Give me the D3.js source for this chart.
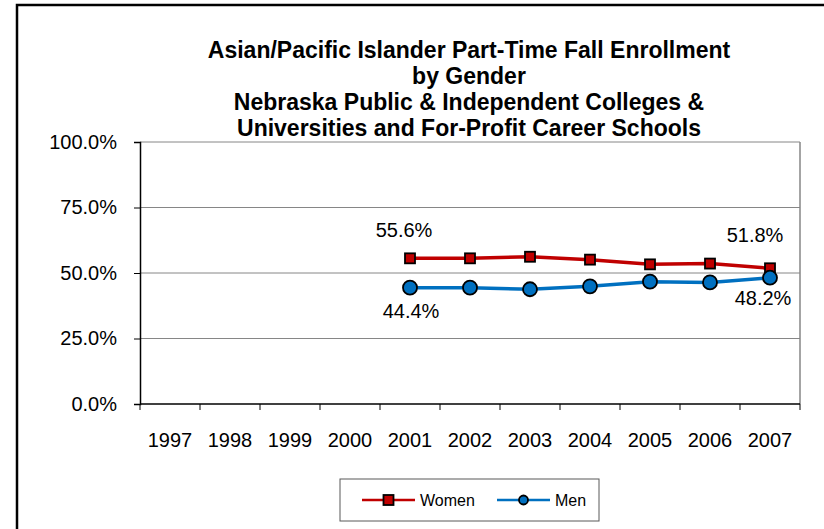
<!DOCTYPE html>
<html>
<head>
<meta charset="utf-8">
<script src="https://cdn.jsdelivr.net/npm/d3@7"></script>
<style>
  body { margin: 0; background: #fff; }
  text { font-family: "Liberation Sans", Arial, sans-serif; }
</style>
</head>
<body>
<svg width="824" height="529"></svg>
<script>
var years = ["1997", "1998", "1999", "2000", "2001", "2002", "2003", "2004", "2005", "2006", "2007"];
var women = [null, null, null, null, 55.6, 55.6, 56.2, 55.1, 53.3, 53.6, 51.8];
var men = [null, null, null, null, 44.4, 44.4, 43.8, 44.9, 46.7, 46.4, 48.2];
var yTicks = [0, 25, 50, 75, 100];
var titleLines = [
  "Asian/Pacific Islander Part-Time Fall Enrollment",
  "by Gender",
  "Nebraska Public & Independent Colleges &",
  "Universities and For-Profit Career Schools"
];

var svg = d3.select("svg");

// outer chart frame (runs off the right and bottom edges)
svg.append("rect")
  .attr("x", 17).attr("y", 5)
  .attr("width", 830).attr("height", 540)
  .attr("fill", "white").attr("stroke", "black").attr("stroke-width", 2.5);

var plot = { left: 140, top: 142, right: 800, bottom: 404 };

var x = d3.scaleBand().domain(years).range([plot.left, plot.right]);
var y = d3.scaleLinear().domain([0, 100]).range([plot.bottom, plot.top]);

// title
svg.append("text")
  .attr("x", 469).attr("y", 58)
  .attr("text-anchor", "middle")
  .attr("font-size", 23).attr("font-weight", "bold")
  .selectAll("tspan")
  .data(titleLines)
  .enter().append("tspan")
  .attr("x", 469)
  .attr("dy", function(d, i) { return i == 0 ? 0 : 26; })
  .text(function(d) { return d; });

// gridlines
svg.append("g")
  .selectAll("line")
  .data(yTicks.filter(function(d) { return d > 0; }))
  .enter().append("line")
  .attr("x1", plot.left).attr("x2", plot.right)
  .attr("y1", function(d) { return y(d); })
  .attr("y2", function(d) { return y(d); })
  .attr("stroke", "#868686").attr("stroke-width", 1);

svg.append("line")
  .attr("x1", plot.right).attr("x2", plot.right)
  .attr("y1", plot.top).attr("y2", plot.bottom)
  .attr("stroke", "#868686").attr("stroke-width", 1.5);

// y axis
var yAxis = d3.axisLeft(y)
  .tickValues(yTicks)
  .tickSize(6)
  .tickPadding(17)
  .tickFormat(function(d) { return d3.format(".1f")(d) + "%"; });

var gy = svg.append("g")
  .attr("transform", "translate(" + plot.left + ",0)")
  .call(yAxis);
gy.select(".domain").attr("stroke", "black").attr("stroke-width", 1.5);
gy.selectAll(".tick line").attr("stroke", "black");
gy.selectAll(".tick text")
  .attr("font-size", 20).attr("fill", "black")
  .attr("font-family", "Liberation Sans, Arial, sans-serif");

// x axis, ticks between categories
var gx = svg.append("g")
  .attr("transform", "translate(0," + plot.bottom + ")");
gx.append("line")
  .attr("x1", plot.left).attr("x2", plot.right)
  .attr("stroke", "black").attr("stroke-width", 1.5);
gx.selectAll(".tk")
  .data(years.concat(["end"]))
  .enter().append("line")
  .attr("x1", function(d, i) { return plot.left + i * x.bandwidth(); })
  .attr("x2", function(d, i) { return plot.left + i * x.bandwidth(); })
  .attr("y1", 0).attr("y2", 6)
  .attr("stroke", "black");
gx.selectAll("text")
  .data(years)
  .enter().append("text")
  .attr("x", function(d) { return x(d) + x.bandwidth() / 2; })
  .attr("y", 43)
  .attr("text-anchor", "middle")
  .attr("font-size", 20)
  .text(function(d) { return d; });

// series
var series = [
  { name: "Women", values: women, color: "#C00000", shape: "square" },
  { name: "Men", values: men, color: "#0070C0", shape: "circle" }
];

var line = d3.line()
  .defined(function(d) { return d.v != null; })
  .x(function(d) { return x(d.year) + x.bandwidth() / 2; })
  .y(function(d) { return y(d.v); });

series.forEach(function(s) {
  var pts = years.map(function(yr, i) { return { year: yr, v: s.values[i] }; });
  svg.append("path")
    .datum(pts)
    .attr("d", line)
    .attr("fill", "none")
    .attr("stroke", s.color)
    .attr("stroke-width", 3.5);

  var g = svg.append("g");
  var valid = pts.filter(function(d) { return d.v != null; });
  if (s.shape == "square") {
    g.selectAll("rect").data(valid).enter().append("rect")
      .attr("x", function(d) { return x(d.year) + x.bandwidth() / 2 - 5; })
      .attr("y", function(d) { return y(d.v) - 5; })
      .attr("width", 10).attr("height", 10)
      .attr("fill", s.color).attr("stroke", "black").attr("stroke-width", 1.8);
  } else {
    g.selectAll("circle").data(valid).enter().append("circle")
      .attr("cx", function(d) { return x(d.year) + x.bandwidth() / 2; })
      .attr("cy", function(d) { return y(d.v); })
      .attr("r", 7)
      .attr("fill", s.color).attr("stroke", "black").attr("stroke-width", 1.8);
  }
});

// data labels for first and last points
var labels = [
  { year: "2001", v: women[4], dx: -6, dy: -21 },
  { year: "2001", v: men[4], dx: 1, dy: 30 },
  { year: "2007", v: women[10], dx: -15, dy: -26 },
  { year: "2007", v: men[10], dx: -7, dy: 27 }
];
svg.append("g")
  .selectAll("text")
  .data(labels)
  .enter().append("text")
  .attr("x", function(d) { return x(d.year) + x.bandwidth() / 2 + d.dx; })
  .attr("y", function(d) { return y(d.v) + d.dy; })
  .attr("text-anchor", "middle")
  .attr("font-size", 20)
  .text(function(d) { return d3.format(".1f")(d.v) + "%"; });

// legend
var lg = svg.append("g").attr("transform", "translate(340,479)");
lg.append("rect")
  .attr("width", 259).attr("height", 42)
  .attr("fill", "white").attr("stroke", "#595959").attr("stroke-width", 1);

var items = lg.selectAll(".item")
  .data(series)
  .enter().append("g")
  .attr("transform", function(d, i) { return "translate(" + (22 + i * 135) + ",21)"; });
items.append("line")
  .attr("x1", 0).attr("x2", 53)
  .attr("stroke", function(d) { return d.color; })
  .attr("stroke-width", 2.5);
items.filter(function(d) { return d.shape == "square"; })
  .append("rect")
  .attr("x", 21.5).attr("y", -5).attr("width", 10).attr("height", 10)
  .attr("fill", function(d) { return d.color; })
  .attr("stroke", "black").attr("stroke-width", 1.8);
items.filter(function(d) { return d.shape == "circle"; })
  .append("circle")
  .attr("cx", 26.5).attr("r", 4.5)
  .attr("fill", function(d) { return d.color; })
  .attr("stroke", "black").attr("stroke-width", 1.8);
items.append("text")
  .attr("x", 58).attr("y", 6)
  .attr("font-size", 16)
  .text(function(d) { return d.name; });
</script>
</body>
</html>
